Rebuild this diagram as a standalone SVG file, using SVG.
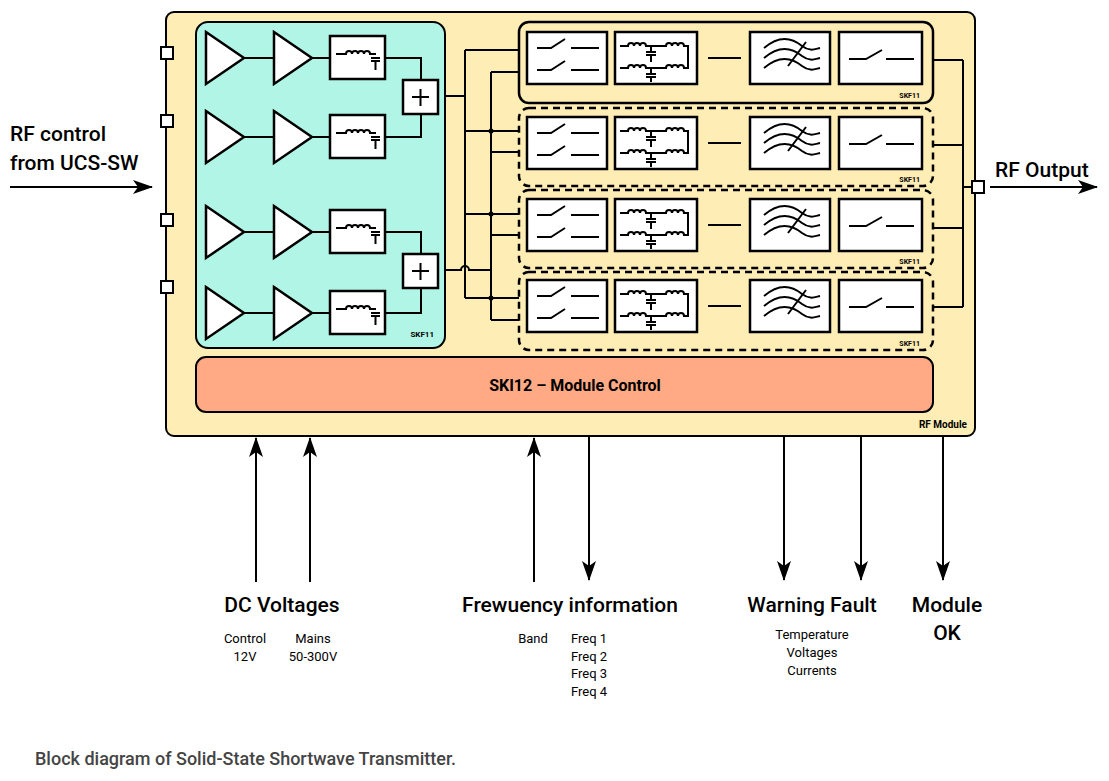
<svg xmlns="http://www.w3.org/2000/svg" xmlns:xlink="http://www.w3.org/1999/xlink" width="1109" height="781" viewBox="0 0 1109 781">
<style>
.ln{fill:none;stroke:#000;stroke-width:2}
.bx{fill:#fff;stroke:#000;stroke-width:2.5}
.sym{fill:none;stroke:#000;stroke-width:2}
.t{font-family:Roboto,"Liberation Sans",sans-serif;fill:#000}
.big{font-size:21px;font-weight:500}
.sm{font-size:13px}
.tiny{font-size:8px;font-weight:bold}
</style>
<defs>
<marker id="ah" markerWidth="10" markerHeight="10" refX="9" refY="5" orient="auto" markerUnits="userSpaceOnUse"><path d="M0,0 L10,5 L0,10 z" fill="#000"/></marker>
<marker id="ahb" markerWidth="20" markerHeight="14" refX="19" refY="7" orient="auto" markerUnits="userSpaceOnUse"><path d="M0,0 L20,7 L0,14 L5,7 z" fill="#000"/></marker>
<g id="amp"><path d="M206,-26 L244,0 L206,26 z" fill="#fff" stroke="#000" stroke-width="2.5"/><path d="M244,0 H274" class="ln"/><path d="M274,-26 L312,0 L274,26 z" fill="#fff" stroke="#000" stroke-width="2.5"/><path d="M312,0 H330" class="ln"/><rect x="330" y="-22" width="55" height="43" class="bx"/><path d="M336,-4 H346 a3,3 0 0 1 6,0 a3,3 0 0 1 6,0 a3,3 0 0 1 6,0 a3,3 0 0 1 6,0 H376 M371,0 H380 M371,3 H380 M375.5,3 V12" class="sym"/></g>
<g id="skf">
<rect x="527" y="10" width="80" height="52" class="bx"/>
<path d="M537,26 H551 L565,17 M571,26 H599 M537,48 H551 L565,39 M571,48 H599" class="sym"/>
<rect x="615" y="10" width="82" height="52" class="bx"/>
<path d="M620,24 H628 a3,3 0 0 1 6,0 a3,3 0 0 1 6,0 a3,3 0 0 1 6,0 H666 a3,3 0 0 1 6,0 a3,3 0 0 1 6,0 a3,3 0 0 1 6,0 H688 V46 H684 a3,3 0 0 0 -6,0 a3,3 0 0 0 -6,0 a3,3 0 0 0 -6,0 H646 a3,3 0 0 0 -6,0 a3,3 0 0 0 -6,0 a3,3 0 0 0 -6,0 H620 M651,24 V30 M646,30 H656 M646,33 H656 M651,33 V40 M651,46 V52 M646,52 H656 M646,55 H656 M651,55 V60" class="sym"/>
<path d="M708,36 H741" class="sym"/>
<rect x="750" y="10" width="80" height="52" class="bx"/>
<path d="M764,26 C778,14 790,14 802,24 C810,30 815,27 820,26 M764,36 C778,24 790,24 802,34 C810,40 815,37 820,36 M764,46 C778,34 790,34 802,44 C810,50 815,47 820,46 M788,44 L806,20" class="sym"/>
<rect x="839" y="10" width="83" height="52" class="bx"/>
<path d="M849,37 H866 L882,28 M886,37 H914" class="sym"/>
</g>
</defs>

<g id="rf-module">
<rect x="166" y="12" width="809" height="424" rx="8" fill="#feedb5" stroke="#000" stroke-width="2"/>
<text x="967" y="428" class="t" font-size="10" font-weight="bold" text-anchor="end">RF Module</text>
</g>
<g id="ports">
<rect x="161" y="47" width="12" height="12" fill="#fff" stroke="#000" stroke-width="2"/>
<rect x="161" y="115" width="12" height="12" fill="#fff" stroke="#000" stroke-width="2"/>
<rect x="161" y="214" width="12" height="12" fill="#fff" stroke="#000" stroke-width="2"/>
<rect x="161" y="281" width="12" height="12" fill="#fff" stroke="#000" stroke-width="2"/>
<rect x="972" y="181" width="12" height="12" fill="#fff" stroke="#000" stroke-width="2"/>
</g>

<g id="amplifier-block">
<rect x="196" y="22" width="249" height="326" rx="12" fill="#b1f5e6" stroke="#000" stroke-width="2"/>
<use xlink:href="#amp" transform="translate(0,58)"/>
<use xlink:href="#amp" transform="translate(0,137)"/>
<use xlink:href="#amp" transform="translate(0,232)"/>
<use xlink:href="#amp" transform="translate(0,313)"/>
<path d="M385,58 H421 V80 M385,137 H421 V114 M385,232 H421 V254 M385,313 H421 V288" class="ln"/>
<rect x="403" y="80" width="35" height="34" class="bx"/>
<rect x="403" y="254" width="35" height="34" class="bx"/>
<path d="M412,97 H429 M420.5,89 V106 M412,271 H429 M420.5,263 V280" class="sym"/>
<text x="434" y="337" class="t tiny" text-anchor="end">SKF11</text>
</g>

<g id="skf1"><rect x="519" y="22" width="414" height="81" rx="10" fill="none" stroke="#000" stroke-width="2.5"/><use xlink:href="#skf" transform="translate(0,22)"/><text x="920" y="98" class="t" font-size="7" font-weight="bold" text-anchor="end">SKF11</text></g>
<g id="skf2"><rect x="519" y="108" width="414" height="78" rx="10" fill="none" stroke="#000" stroke-width="2.5" stroke-dasharray="7,5"/><use xlink:href="#skf" transform="translate(0,107)"/><text x="920" y="182" class="t" font-size="7" font-weight="bold" text-anchor="end">SKF11</text></g>
<g id="skf3"><rect x="519" y="190" width="414" height="78" rx="10" fill="none" stroke="#000" stroke-width="2.5" stroke-dasharray="7,5"/><use xlink:href="#skf" transform="translate(0,189)"/><text x="920" y="264" class="t" font-size="7" font-weight="bold" text-anchor="end">SKF11</text></g>
<g id="skf4"><rect x="519" y="272" width="414" height="78" rx="10" fill="none" stroke="#000" stroke-width="2.5" stroke-dasharray="7,5"/><use xlink:href="#skf" transform="translate(0,270)"/><text x="920" y="346" class="t" font-size="7" font-weight="bold" text-anchor="end">SKF11</text></g>

<g id="module-control">
<rect x="196" y="357" width="737" height="55" rx="10" fill="#ffaa85" stroke="#000" stroke-width="2"/>
<text x="575" y="391" class="t" font-size="16" font-weight="bold" text-anchor="middle">SKI12 – Module Control</text>
</g>

<g id="connectors">
<path d="M445,96 H465 M465,50 V298 M465,50 H519 M465,131 H519 M465,214 H519 M465,298 H519" class="ln"/>
<path d="M445,270 H461 a4,4 0 0 1 8,0 H491 M491,72 V320 M491,72 H519 M491,152 H519 M491,235 H519 M491,320 H519" class="ln"/>
<circle cx="491" cy="131" r="2.5"/><circle cx="491" cy="214" r="2.5"/><circle cx="491" cy="298" r="2.5"/>
<path d="M933,60 H963 M933,145 H963 M933,228 H963 M933,307 H963 M963,60 V307 M963,187 H972" class="ln"/>
<path d="M10,187 H152" class="ln" marker-end="url(#ahb)"/>
<path d="M990,187 H1097" class="ln" marker-end="url(#ahb)"/>
<path d="M256,582 V438" class="ln" marker-end="url(#ahb)"/>
<path d="M310,582 V438" class="ln" marker-end="url(#ahb)"/>
<path d="M534,582 V438" class="ln" marker-end="url(#ahb)"/>
<path d="M589,436 V580" class="ln" marker-end="url(#ahb)"/>
<path d="M784,436 V580" class="ln" marker-end="url(#ahb)"/>
<path d="M861,436 V580" class="ln" marker-end="url(#ahb)"/>
<path d="M943,436 V580" class="ln" marker-end="url(#ahb)"/>
</g>

<g id="labels">
<text x="10" y="141" class="t big">RF control</text>
<text x="10" y="170" class="t big">from UCS-SW</text>
<text x="995" y="177" class="t big">RF Output</text>
<text x="282" y="612" class="t big" text-anchor="middle">DC Voltages</text>
<text x="245" y="643" class="t sm" text-anchor="middle">Control</text>
<text x="245" y="661" class="t sm" text-anchor="middle">12V</text>
<text x="313" y="643" class="t sm" text-anchor="middle">Mains</text>
<text x="313" y="661" class="t sm" text-anchor="middle">50-300V</text>
<text x="570" y="612" class="t big" text-anchor="middle">Frewuency information</text>
<text x="533" y="643" class="t sm" text-anchor="middle">Band</text>
<text x="571" y="643" class="t sm">Freq 1</text>
<text x="571" y="661" class="t sm">Freq 2</text>
<text x="571" y="678" class="t sm">Freq 3</text>
<text x="571" y="696" class="t sm">Freq 4</text>
<text x="812" y="612" class="t big" text-anchor="middle">Warning Fault</text>
<text x="812" y="639" class="t sm" text-anchor="middle">Temperature</text>
<text x="812" y="657" class="t sm" text-anchor="middle">Voltages</text>
<text x="812" y="675" class="t sm" text-anchor="middle">Currents</text>
<text x="947" y="612" class="t big" text-anchor="middle">Module</text>
<text x="947" y="640" class="t big" text-anchor="middle">OK</text>
<text x="35" y="765" class="t" font-size="18" font-weight="500" fill="#444" style="fill:#444">Block diagram of Solid-State Shortwave Transmitter.</text>
</g>
</svg>
